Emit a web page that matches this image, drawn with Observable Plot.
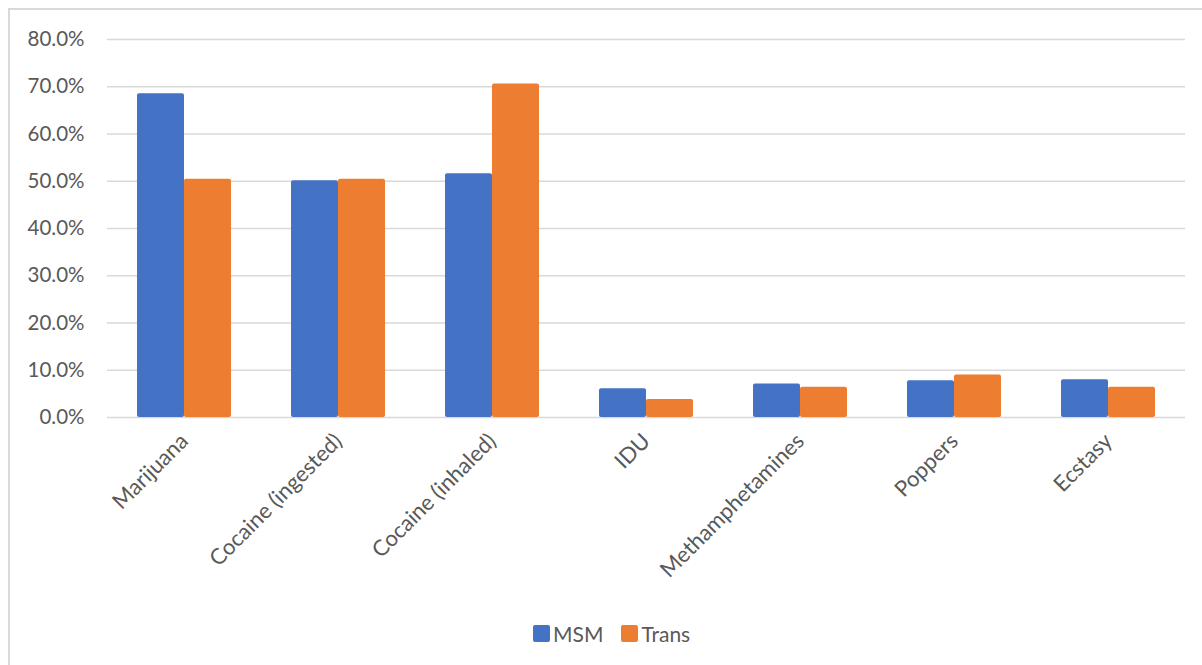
<!DOCTYPE html>
<html>
<head>
<meta charset="utf-8">
<script src="https://cdn.jsdelivr.net/npm/d3@7"></script>
<script src="https://cdn.jsdelivr.net/npm/@observablehq/plot@0.6"></script>
<style>
  html, body { margin: 0; padding: 0; background: #fff; width: 1202px; height: 665px; overflow: hidden; }
  #frame { position: absolute; left: 8px; top: 8px; width: 1194px; height: 657px;
           border-left: 2px solid #d9d9d9; border-top: 2px solid #d9d9d9; box-sizing: border-box; }
  #chart { position: absolute; left: 0; top: 0; }
  #legend { position: absolute; top: 621px; left: 533px; display: flex; align-items: center;
            font-family: Lato, "Noto Sans", sans-serif; font-size: 21px; color: #595959; }
  .sw { width: 17px; height: 17px; border-radius: 2px; margin-right: 3px; }
  .item { display: flex; align-items: center; margin-right: 18px; }
</style>
</head>
<body>
<div id="frame"></div>
<div id="chart"></div>
<div id="legend"></div>
<script>
const categories = ["Marijuana", "Cocaine (ingested)", "Cocaine (inhaled)", "IDU", "Methamphetamines", "Poppers", "Ecstasy"];
const seriesNames = ["MSM", "Trans"];
const msmValues = [0.685, 0.501, 0.516, 0.061, 0.071, 0.078, 0.080];
const transValues = [0.504, 0.504, 0.706, 0.038, 0.064, 0.090, 0.064];
const colors = ["#4472C4", "#ED7D31"];
const yTicks = [0, 0.1, 0.2, 0.3, 0.4, 0.5, 0.6, 0.7, 0.8];

const data = [];
categories.forEach((c, i) => {
  data.push({category: c, series: seriesNames[0], value: msmValues[i]});
  data.push({category: c, series: seriesNames[1], value: transValues[i]});
});

const plot = Plot.plot({
  width: 1202,
  height: 600,
  marginLeft: 107,
  marginRight: 17,
  marginTop: 39,
  marginBottom: 183,
  style: {fontFamily: "Lato, 'Noto Sans', sans-serif", fontSize: "21px", color: "#595959", background: "transparent"},
  fx: {domain: categories, padding: 0, label: null},
  x: {domain: seriesNames, paddingInner: 0, paddingOuter: 0.62, axis: null},
  y: {domain: [0, 0.8], label: null},
  color: {domain: seriesNames, range: colors},
  marks: [
    Plot.gridY(yTicks, {stroke: "#d9d9d9", strokeOpacity: 1, strokeWidth: 1.5}),
    Plot.axisY(yTicks, {tickSize: 0, tickPadding: 23, tickFormat: d => (d * 100).toFixed(1) + "%", label: null, fill: "#595959", fontSize: 20.5}),
    Plot.axisFx({anchor: "bottom", tickSize: 0, tickRotate: -45, tickPadding: 20, label: null, fill: "#595959", fontSize: 22}),
    Plot.barY(data, {fx: "category", x: "series", y: "value", fill: "series", rx: 2})
  ]
});
document.getElementById("chart").appendChild(plot);

const legend = document.getElementById("legend");
seriesNames.forEach((s, i) => {
  const item = document.createElement("div");
  item.className = "item";
  const sw = document.createElement("div");
  sw.className = "sw";
  sw.style.background = colors[i];
  const t = document.createElement("span");
  t.textContent = s;
  item.appendChild(sw);
  item.appendChild(t);
  legend.appendChild(item);
});
</script>
</body>
</html>
